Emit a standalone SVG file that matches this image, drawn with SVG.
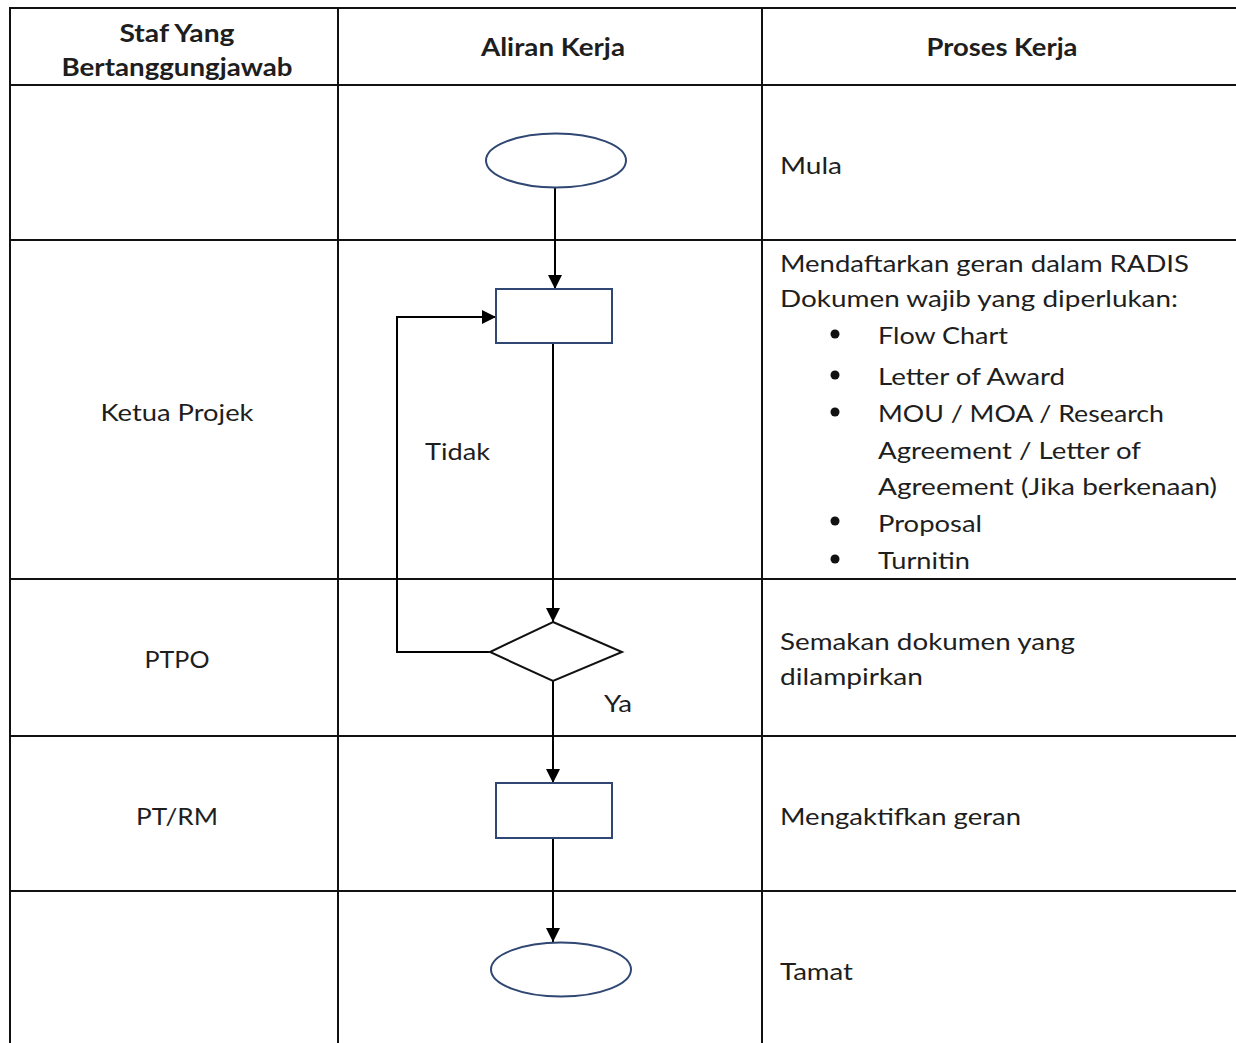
<svg xmlns="http://www.w3.org/2000/svg" width="1236" height="1043" viewBox="0 0 1236 1043">
<defs>
<style>
.grid{stroke:#111;stroke-width:2;fill:none}
.shape{fill:#fff;stroke:#2f4772;stroke-width:2}
.dia{fill:#fff;stroke:#111;stroke-width:2}
.conn{stroke:#000;stroke-width:2;fill:none}
text{font-family:Lato,"Open Sans","Liberation Sans",sans-serif;font-size:24px;fill:#1e1e1e}
.h{font-weight:bold}
.c{text-anchor:middle}
</style>
<marker id="arr" viewBox="0 0 10 10" refX="10" refY="5" markerWidth="7" markerHeight="7" markerUnits="strokeWidth" orient="auto">
<path d="M0,0 L10,5 L0,10 Z" fill="#000"/>
</marker>
</defs>
<rect width="1236" height="1043" fill="#fff"/>
<g id="table">
<path class="grid" d="M10,1043 V8 H1236 M338,8 V1043 M762,8 V1043 M10,85 H1236 M10,240 H1236 M10,579 H1236 M10,736 H1236 M10,891 H1236"/>
<text class="h c" x="177" y="42" textLength="115" lengthAdjust="spacingAndGlyphs">Staf Yang</text>
<text class="h c" x="177" y="76" textLength="231" lengthAdjust="spacingAndGlyphs">Bertanggungjawab</text>
<text class="h c" x="553" y="56" textLength="144" lengthAdjust="spacingAndGlyphs">Aliran Kerja</text>
<text class="h c" x="1002" y="56" textLength="151" lengthAdjust="spacingAndGlyphs">Proses Kerja</text>
<text class="c" x="177" y="421" textLength="153" lengthAdjust="spacingAndGlyphs">Ketua Projek</text>
<text class="c" x="177" y="668" textLength="65" lengthAdjust="spacingAndGlyphs">PTPO</text>
<text class="c" x="177" y="825" textLength="82" lengthAdjust="spacingAndGlyphs">PT/RM</text>
<text x="780" y="174" textLength="62" lengthAdjust="spacingAndGlyphs">Mula</text>
<text x="780" y="272" textLength="409" lengthAdjust="spacingAndGlyphs">Mendaftarkan geran dalam RADIS</text>
<text x="780" y="307" textLength="398" lengthAdjust="spacingAndGlyphs">Dokumen wajib yang diperlukan:</text>
<g fill="#111"><circle cx="835" cy="334" r="4.5"/><circle cx="835" cy="375" r="4.5"/><circle cx="835" cy="412" r="4.5"/><circle cx="835" cy="521" r="4.5"/><circle cx="835" cy="559" r="4.5"/></g>
<text x="878" y="344" textLength="130" lengthAdjust="spacingAndGlyphs">Flow Chart</text>
<text x="878" y="385" textLength="187" lengthAdjust="spacingAndGlyphs">Letter of Award</text>
<text x="878" y="422" textLength="286" lengthAdjust="spacingAndGlyphs">MOU / MOA / Research</text>
<text x="878" y="459" textLength="263" lengthAdjust="spacingAndGlyphs">Agreement / Letter of</text>
<text x="878" y="495" textLength="339" lengthAdjust="spacingAndGlyphs">Agreement (Jika berkenaan)</text>
<text x="878" y="532" textLength="104" lengthAdjust="spacingAndGlyphs">Proposal</text>
<text x="878" y="569" textLength="92" lengthAdjust="spacingAndGlyphs">Turnitin</text>
<text x="780" y="650" textLength="295" lengthAdjust="spacingAndGlyphs">Semakan dokumen yang</text>
<text x="780" y="685" textLength="143" lengthAdjust="spacingAndGlyphs">dilampirkan</text>
<text x="780" y="825" textLength="241" lengthAdjust="spacingAndGlyphs">Mengaktifkan geran</text>
<text x="780" y="980" textLength="73" lengthAdjust="spacingAndGlyphs">Tamat</text>
</g>
<g id="connectors">
<line class="conn" x1="555" y1="188" x2="555" y2="289" marker-end="url(#arr)"/>
<line class="conn" x1="553" y1="343" x2="553" y2="622" marker-end="url(#arr)"/>
<polyline class="conn" points="490,652 397,652 397,317 496,317" marker-end="url(#arr)"/>
<line class="conn" x1="553" y1="681" x2="553" y2="783" marker-end="url(#arr)"/>
<line class="conn" x1="553" y1="838" x2="553" y2="942" marker-end="url(#arr)"/>
<text x="425" y="460" textLength="65" lengthAdjust="spacingAndGlyphs">Tidak</text>
<text x="604" y="712" textLength="28" lengthAdjust="spacingAndGlyphs">Ya</text>
</g>
<g id="start"><ellipse class="shape" cx="556" cy="160.5" rx="70" ry="27"/></g>
<g id="register"><rect class="shape" x="496" y="289" width="116" height="54"/></g>
<g id="check"><polygon class="dia" points="553,622 622,652 553,681 490,652"/></g>
<g id="activate"><rect class="shape" x="496" y="783" width="116" height="55"/></g>
<g id="end"><ellipse class="shape" cx="561" cy="969.5" rx="70" ry="27"/></g>
</svg>
